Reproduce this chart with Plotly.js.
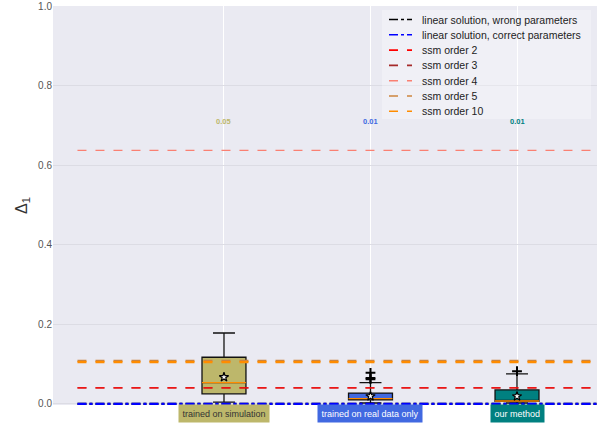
<!DOCTYPE html>
<html>
<head>
<meta charset="utf-8">
<script src="https://cdn.plot.ly/plotly-3.0.1.min.js"></script>
<style>html,body{margin:0;padding:0;background:#fff;}#chart{width:597px;height:426px;}</style>
</head>
<body>
<div id="chart"></div>
<script>
// ---- data ----
const categories = ['trained on simulation', 'trained on real data only', 'our method'];
const positions = [0, 1, 2];
const boxColors = ['#BDB76B', '#4169E1', '#008080'];
const labelTextColors = ['#333333', '#ffffff', '#ffffff'];
const q1 = [0.025, 0.010, 0.006];
const medians = [0.053, 0.013, 0.007];
const q3 = [0.117, 0.027, 0.035];
const lowerWhisker = [0.004, 0.002, 0.002];
const upperWhisker = [0.178, 0.053, 0.075];
const means = [0.067, 0.019, 0.019];
const outliers = [[], [0.062, 0.065, 0.078], [0.082]];
const topLabels = ['0.05', '0.01', '0.01'];
const topLabelLevel = 0.71;
const yTickVals = [0, 0.2, 0.4, 0.6, 0.8, 1.0];

const lineNames = ['linear solution, wrong parameters', 'linear solution, correct parameters',
  'ssm order 2', 'ssm order 3', 'ssm order 4', 'ssm order 5', 'ssm order 10'];
const lineLevels = [0.0, 0.0, 0.040, 0.040, 0.637, 0.108, 0.105];
const lineColors = ['#000000', '#0000FF', '#FF0000', '#A52A2A', '#FA8072', '#CD853F', '#FF8C00'];
const lineDashes = ['dashdot', 'dashdot', 'dash', 'dash', 'dash', 'dash', 'dash'];
const lineWidths = [2.2, 2.2, 1.4, 1.4, 1.4, 2.2, 2.2];
const lineDrawOrder = [0, 1, 3, 2, 4, 5, 6];
const lineSpan = [-1, 3];

const W = 597, H = 426, ML = 53, MR = 0, MT = 6, MB = 21;
const PW = W - ML - MR, PH = H - MT - MB;
const px2x = px => (px - ML) / PW;
const py2y = py => 1 - (py - MT) / PH;

const boxWidth = 0.3;
const traces = [];

// boxes
positions.forEach((p, i) => {
  traces.push({
    type: 'box', x: [p], q1: [q1[i]], median: [medians[i]], q3: [q3[i]],
    lowerfence: [lowerWhisker[i]], upperfence: [upperWhisker[i]],
    width: boxWidth, whiskerwidth: 0.5,
    fillcolor: boxColors[i], line: {color: '#111', width: 1.3},
    boxpoints: false, showlegend: false, hoverinfo: 'skip'
  });
  traces.push({
    type: 'scatter', mode: 'lines', x: [p - boxWidth / 2, p + boxWidth / 2], y: [medians[i], medians[i]],
    line: {color: '#FF8C00', width: 1.3}, showlegend: false, hoverinfo: 'skip'
  });
});
traces.push({
  type: 'scatter', mode: 'markers', x: positions, y: means,
  marker: {symbol: 'star', size: 7, color: '#ffffff', line: {color: '#000', width: 1.2}},
  showlegend: false, hoverinfo: 'skip'
});
const ox = [], oy = [];
outliers.forEach((arr, i) => arr.forEach(v => { ox.push(positions[i]); oy.push(v); }));
traces.push({
  type: 'scatter', mode: 'markers', x: ox, y: oy,
  marker: {symbol: 'cross-thin', size: 7, line: {color: '#000', width: 2}},
  showlegend: false, hoverinfo: 'skip'
});

// horizontal reference lines
lineDrawOrder.forEach(i => {
  traces.push({
    type: 'scatter', mode: 'lines', name: lineNames[i], x: lineSpan, y: [lineLevels[i], lineLevels[i]],
    line: {color: lineColors[i], dash: lineDashes[i], width: lineWidths[i]},
    showlegend: false, hoverinfo: 'skip'
  });
});

const annotations = [];
const shapes = [];
positions.forEach((p, i) => {
  annotations.push({
    x: p, y: topLabelLevel, xref: 'x', yref: 'y', text: '<b>' + topLabels[i] + '</b>',
    showarrow: false, font: {size: 7.5, color: boxColors[i], family: 'Liberation Sans, Arial, sans-serif'}
  });
  annotations.push({
    x: p, y: py2y(413.5), xref: 'x', yref: 'paper', yanchor: 'middle', text: categories[i],
    showarrow: false, bgcolor: boxColors[i], borderpad: 3.5,
    font: {size: 9, color: labelTextColors[i], family: 'Liberation Sans, Arial, sans-serif'}
  });
});

// custom legend (compact spacing like the reference)
shapes.push({
  type: 'rect', xref: 'paper', yref: 'paper', x0: px2x(382), x1: px2x(591), y0: py2y(119), y1: py2y(10),
  fillcolor: 'rgba(255,255,255,0.3)', line: {width: 0}, layer: 'above'
});
lineNames.forEach((n, i) => {
  const py = 19.5 + 15.3 * i;
  shapes.push({
    type: 'line', xref: 'paper', yref: 'paper', x0: px2x(389), x1: px2x(412), y0: py2y(py), y1: py2y(py),
    line: {color: lineColors[i], dash: lineDashes[i], width: 1.6}, layer: 'above'
  });
  annotations.push({
    x: px2x(420), y: py2y(py), xref: 'paper', yref: 'paper', xanchor: 'left', yanchor: 'middle',
    text: n, showarrow: false, font: {size: 10.5, color: '#222', family: 'Liberation Sans, Arial, sans-serif'}
  });
});

const layout = {
  width: W, height: H,
  margin: {l: ML, r: MR, t: MT, b: MB},
  paper_bgcolor: '#ffffff', plot_bgcolor: '#EAEAF2',
  font: {family: 'Liberation Sans, Arial, sans-serif', color: '#333'},
  xaxis: {range: [-1.167, 2.546], tickvals: positions, showticklabels: false, showgrid: true,
    gridcolor: '#ffffff', gridwidth: 1, zeroline: false, showline: false, ticks: '', fixedrange: true},
  yaxis: {range: [-0.003, 1], tickvals: yTickVals, tickformat: '.1f', showgrid: true,
    gridcolor: '#DCDCE4', gridwidth: 1,
    zeroline: false, showline: false, ticks: '', tickfont: {size: 10, color: '#555'},
    title: {text: 'Δ<sub>1</sub>', font: {size: 16, color: '#333'}, standoff: 6}},
  showlegend: false,
  annotations: annotations,
  shapes: shapes
};

Plotly.newPlot('chart', traces, layout, {displayModeBar: false, staticPlot: true});
</script>
</body>
</html>
